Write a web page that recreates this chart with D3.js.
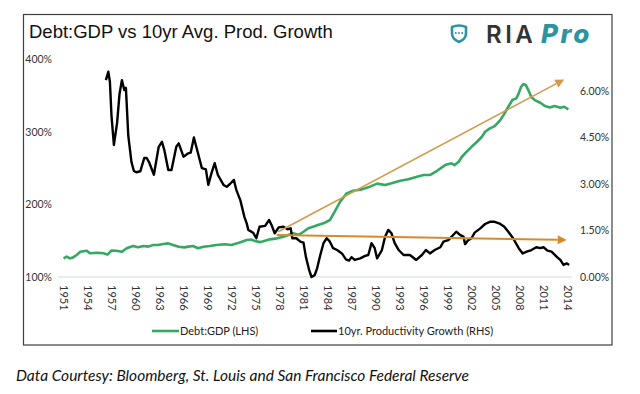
<!DOCTYPE html>
<html>
<head>
<meta charset="utf-8">
<script src="https://cdn.jsdelivr.net/npm/d3@7"></script>
<style>
  html, body { margin: 0; padding: 0; background: #fff; }
  svg { display: block; }
</style>
</head>
<body>
<svg id="chart" width="640" height="394"></svg>
<script>
// ---------------- DATA ----------------
const title = "Debt:GDP vs 10yr Avg. Prod. Growth";
const source = "Data Courtesy: Bloomberg, St. Louis and San Francisco Federal Reserve";
const seriesNames = ["Debt:GDP (LHS)", "10yr. Productivity Growth (RHS)"];

const yearTicks = [1951,1954,1957,1960,1963,1966,1969,1972,1975,1978,1981,1984,1987,1990,1993,1996,1999,2002,2005,2008,2011,2014];
const leftTicks = [100, 200, 300, 400];
const rightTicks = [0, 1.5, 3, 4.5, 6];

// Debt:GDP (LHS, %)
const debtYears = [1951.0,1951.4,1951.8,1952.2,1952.6,1953.1,1953.9,1954.3,1955.2,1956.0,1956.5,1957.0,1957.6,1958.3,1958.9,1959.7,1960.3,1961.0,1961.6,1962.2,1962.8,1963.5,1964.1,1964.7,1965.4,1966.1,1966.6,1967.2,1967.8,1968.5,1969.3,1970.1,1971.2,1972.0,1972.7,1973.3,1973.9,1974.5,1974.9,1975.6,1976.2,1976.8,1977.7,1978.5,1979.1,1979.7,1980.4,1981.0,1981.6,1982.2,1982.8,1983.5,1984.3,1984.9,1985.6,1986.4,1987.2,1988.3,1989.1,1990.2,1991.2,1992.0,1993.1,1994.1,1995.2,1996.0,1996.8,1997.7,1998.7,1999.5,1999.9,2000.4,2000.8,2001.4,2002.0,2002.7,2003.3,2003.7,2004.3,2004.9,2005.6,2006.0,2006.6,2007.1,2007.6,2007.9,2008.2,2008.5,2008.8,2009.1,2009.5,2009.9,2010.6,2011.2,2011.8,2012.4,2013.1,2013.6,2014.1];
const debtValues = [125.7,128,125.7,127,130,134.8,136.2,132.6,133.4,132.6,130.8,136.5,136.2,134.8,139.5,142.6,140.8,142.6,141.8,144,144,145.4,146.3,144,141.7,140.8,141.8,142.6,139.5,141.7,142.6,144,145,144,146.3,148.6,150.9,151.5,149.5,148,150,151.8,153.2,155.4,157.8,160.1,158,162.3,167,169.2,171.5,173.9,178.4,190,204,215.1,218.7,220.6,223.4,228.5,226.5,228.9,232.5,234.4,238,240.3,240.3,246.2,254,256.4,254,258.6,265.5,272.4,279.2,286.1,293,299.9,304.5,307.7,316,322.8,334.3,343.5,345.8,352.7,361.8,365.5,364.1,357.2,347.2,343.5,339.8,335.2,333.4,335.2,332.9,334.3,330.7];

// 10yr productivity growth (RHS, %)
const prodYears = [1956.3,1956.6,1956.8,1957.0,1957.3,1957.7,1958.0,1958.3,1958.6,1958.8,1959.1,1959.5,1959.8,1960.1,1960.6,1961.1,1961.4,1961.7,1962.3,1962.9,1963.3,1963.6,1964.1,1964.5,1965.1,1965.4,1966.0,1966.6,1966.9,1967.3,1967.6,1968.3,1968.8,1969.1,1969.5,1969.9,1970.3,1971.0,1971.4,1971.8,1972.3,1972.6,1973.1,1973.6,1973.9,1974.1,1974.7,1975.1,1975.5,1976.2,1976.7,1977.0,1977.4,1977.9,1978.5,1979.0,1979.4,1979.6,1980.1,1980.6,1981.0,1981.3,1981.7,1982.0,1982.4,1982.7,1983.1,1983.5,1983.9,1984.3,1984.7,1985.2,1985.8,1986.3,1986.7,1987.0,1987.4,1988.1,1988.7,1989.1,1989.5,1989.9,1990.2,1990.8,1991.2,1991.6,1992.0,1992.4,1992.9,1993.5,1994.3,1995.1,1995.8,1996.3,1996.8,1997.4,1998.1,1998.5,1999.1,1999.5,2000.1,2000.6,2001.0,2001.2,2001.6,2002.0,2002.4,2003.1,2003.7,2004.3,2004.9,2005.6,2006.1,2006.6,2007.2,2007.9,2008.4,2008.9,2009.5,2010.1,2010.6,2011.0,2011.5,2012.0,2012.7,2013.1,2013.5,2013.9,2014.2];
const prodValues = [6.35,6.62,6.3,5.2,4.26,4.97,5.9,6.35,6.03,6.1,4.55,3.7,3.42,3.38,3.41,3.84,3.84,3.7,3.3,4.2,4.36,4.1,3.45,3.45,4.2,4.31,3.88,3.99,4.01,4.5,4.2,3.51,3.47,2.97,3.35,3.67,3.29,2.97,2.91,3.0,3.13,2.81,2.48,1.95,1.73,1.52,1.43,1.25,1.62,1.65,1.84,1.68,1.41,1.6,1.62,1.54,1.57,1.25,1.25,1.14,1.11,0.65,0.23,0.0,0.06,0.28,0.71,1.09,1.25,1.14,0.93,0.87,0.76,0.57,0.53,0.64,0.55,0.6,0.68,0.71,1.09,0.93,0.6,0.87,1.3,1.52,1.41,1.09,0.87,0.71,0.71,0.55,0.71,0.87,0.76,0.87,0.96,1.14,1.19,1.3,1.46,1.35,1.3,1.06,1.19,1.25,1.43,1.57,1.71,1.78,1.78,1.71,1.62,1.46,1.25,0.93,0.76,0.82,0.87,0.96,0.93,0.96,0.85,0.82,0.64,0.55,0.39,0.44,0.39];

// Trend arrows (year, LHS %)
const trendUpYears = [1977.85, 2013.6];
const trendUpValues = [162.3, 371.9];
const trendFlatYears = [1977.65, 2013.9];
const trendFlatValues = [157.8, 150.9];

// ---------------- DRAW ----------------
const svg = d3.select("#chart");
const W = 640, H = 394;
svg.append("rect").attr("width", W).attr("height", H).attr("fill", "#fff");

const plot = { left: 58, right: 572, top: 59, bottom: 277 };
const x = d3.scaleLinear().domain([1951, 2014]).range([63.5, 567.5]);
const yL = d3.scaleLinear().domain([100, 400]).range([plot.bottom, plot.top]);
const yR = d3.scaleLinear().domain([0, 7.032]).range([plot.bottom, plot.top]);

const axisFont = "Lato, 'Open Sans', sans-serif";
const tickColor = "#333";

// frame
svg.append("rect")
  .attr("x", 23.5).attr("y", 14.5).attr("width", 588.5).attr("height", 330.5)
  .attr("fill", "none").attr("stroke", "#3f3f3f").attr("stroke-width", 1.2);

// title
svg.append("text").attr("x", 29).attr("y", 38)
  .attr("font-family", "'Liberation Sans', Arial, sans-serif")
  .attr("font-size", 18.5).attr("fill", "#111").text(title);

// logo
const teal = "#2E93A0";
const logo = svg.append("g");
logo.append("path")
  .attr("d", "M452,27 Q459,24 466,27 L466,33.5 Q466,39 459,42 Q452,39 452,33.5 Z")
  .attr("fill", "none").attr("stroke", teal).attr("stroke-width", 2.6).attr("stroke-linejoin", "round");
[455.8, 459, 462.2].forEach(cx => logo.append("circle").attr("cx", cx).attr("cy", 33).attr("r", 1).attr("fill", teal));
logo.append("text").attr("x", 486).attr("y", 43.3)
  .attr("font-family", "Inter, 'Liberation Sans', sans-serif").attr("font-weight", 600)
  .attr("font-size", 24).attr("letter-spacing", 3.5).attr("fill", "#333").text("RIA");
logo.append("text").attr("x", 541).attr("y", 43.3)
  .attr("font-family", "Inter, 'Liberation Sans', sans-serif").attr("font-weight", 800)
  .attr("font-style", "italic").attr("font-size", 26).attr("letter-spacing", 2.5)
  .attr("fill", teal).text("Pro");

// baseline gridline
svg.append("line")
  .attr("x1", plot.left).attr("x2", plot.right)
  .attr("y1", plot.bottom).attr("y2", plot.bottom)
  .attr("stroke", "#d9d9d9").attr("stroke-width", 1);

// left axis
const gL = svg.append("g").attr("transform", `translate(${plot.left},0)`)
  .call(d3.axisLeft(yL).tickValues(leftTicks).tickSize(0).tickPadding(6).tickFormat(d => d + "%"));
gL.select(".domain").remove();
gL.selectAll("text").attr("font-family", axisFont).attr("font-size", 10.5).attr("fill", tickColor);

// right axis
const gR = svg.append("g").attr("transform", `translate(${plot.right},0)`)
  .call(d3.axisRight(yR).tickValues(rightTicks).tickSize(0).tickPadding(8).tickFormat(d => d.toFixed(2) + "%"));
gR.select(".domain").remove();
gR.selectAll("text").attr("font-family", axisFont).attr("font-size", 10.5).attr("fill", tickColor);

// bottom axis
const gB = svg.append("g").attr("transform", `translate(0,${plot.bottom})`)
  .call(d3.axisBottom(x).tickValues(yearTicks).tickSize(0).tickFormat(d3.format("d")));
gB.select(".domain").remove();
gB.selectAll("text")
  .attr("font-family", axisFont).attr("font-size", 11).attr("fill", tickColor)
  .attr("transform", "rotate(90)")
  .attr("x", 8).attr("y", 0).attr("dy", "0.35em")
  .style("text-anchor", "start");

// series
const debtData = debtYears.map((yr, i) => [yr, debtValues[i]]);
const prodData = prodYears.map((yr, i) => [yr, prodValues[i]]);

const greenColor = "#35A862";
svg.append("path").datum(debtData)
  .attr("fill", "none").attr("stroke", greenColor).attr("stroke-width", 2.6)
  .attr("stroke-linejoin", "round")
  .attr("d", d3.line().x(d => x(d[0])).y(d => yL(d[1])));

svg.append("path").datum(prodData)
  .attr("fill", "none").attr("stroke", "#000").attr("stroke-width", 2.4)
  .attr("stroke-linejoin", "round")
  .attr("d", d3.line().x(d => x(d[0])).y(d => yR(d[1])));

// trend arrows
function arrow(years, vals, color, width, head) {
  const x1 = x(years[0]), y1 = yL(vals[0]), x2 = x(years[1]), y2 = yL(vals[1]);
  const ang = Math.atan2(y2 - y1, x2 - x1);
  const bx = x2 - head * Math.cos(ang), by = y2 - head * Math.sin(ang);
  svg.append("line").attr("x1", x1).attr("y1", y1).attr("x2", bx).attr("y2", by)
    .attr("stroke", color).attr("stroke-width", width);
  const hw = head * 0.5;
  const p = [
    [x2, y2],
    [bx + hw * Math.sin(ang), by - hw * Math.cos(ang)],
    [bx - hw * Math.sin(ang), by + hw * Math.cos(ang)]
  ];
  svg.append("path").attr("d", "M" + p.map(q => q.join(",")).join("L") + "Z").attr("fill", color);
}
arrow(trendUpYears, trendUpValues, "#D49A4C", 1.5, 9);
arrow(trendFlatYears, trendFlatValues, "#D68A2E", 2, 9);

// legend
const leg = svg.append("g").attr("font-family", axisFont).attr("font-size", 11).attr("fill", "#222");
leg.append("line").attr("x1", 152).attr("x2", 179).attr("y1", 331).attr("y2", 331)
  .attr("stroke", greenColor).attr("stroke-width", 2.6);
leg.append("text").attr("x", 180).attr("y", 335).text(seriesNames[0]);
leg.append("line").attr("x1", 311).attr("x2", 337).attr("y1", 331).attr("y2", 331)
  .attr("stroke", "#000").attr("stroke-width", 2.6);
leg.append("text").attr("x", 338).attr("y", 335).text(seriesNames[1]);

// source
svg.append("text").attr("x", 16).attr("y", 381)
  .attr("font-family", axisFont).attr("font-style", "italic").attr("font-size", 15.5)
  .attr("fill", "#111").text(source);
</script>
</body>
</html>
